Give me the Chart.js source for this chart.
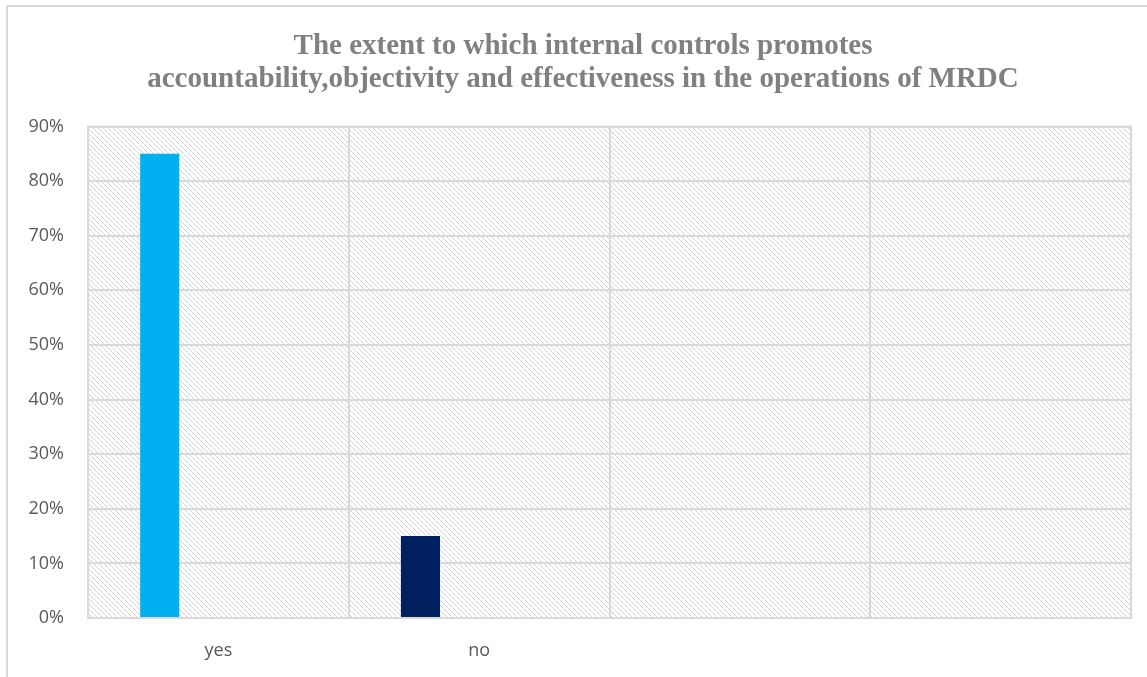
<!DOCTYPE html>
<html>
<head>
<meta charset="utf-8">
<script src="https://cdn.jsdelivr.net/npm/chart.js@4/dist/chart.umd.min.js"></script>
<style>
  html, body { margin: 0; padding: 0; background: #fff; }
  #wrap { width: 1147px; height: 677px; position: relative; }
</style>
</head>
<body>
<div id="wrap"><canvas id="chart"></canvas></div>
<script>
// data
const categories = ['yes', 'no', '', ''];
const responses = [85, 15, null, null];
const barColors = ['#00B0F0', '#002060', '#00B0F0', '#002060'];
const titleLines = [
    'The extent to which internal controls promotes',
    'accountability,objectivity and effectiveness in the operations of MRDC'
];

/* hatch fill for the plot area */
function makeHatch() {
    const c = document.createElement('canvas');
    c.width = 5;
    c.height = 5;
    const g = c.getContext('2d');
    g.fillStyle = '#ffffff';
    g.fillRect(0, 0, 5, 5);
    g.fillStyle = '#d4d4d4';
    for (let i = 0; i < 5; i++) g.fillRect(i, i, 1, 1);
    return g.createPattern(c, 'repeat');
}

const plotBackground = {
    id: 'plotBackground',
    beforeDraw(chart) {
        const { ctx, chartArea: a } = chart;
        ctx.save();
        // outer frame (cut off at right / bottom)
        ctx.strokeStyle = '#d9d9d9';
        ctx.lineWidth = 2;
        ctx.strokeRect(7, 6, 1160, 700);
        ctx.fillStyle = makeHatch();
        ctx.fillRect(a.left, a.top, a.right - a.left, a.bottom - a.top);
        ctx.restore();
    },
    afterDatasetsDraw(chart) {
        const { ctx, chartArea: a } = chart;
        ctx.save();
        ctx.strokeStyle = '#d9d9d9';
        ctx.lineWidth = 2;
        ctx.strokeRect(a.left, a.top, a.right - a.left, a.bottom - a.top);
        ctx.restore();
    }
};

const tickFont = { family: '"Open Sans", "Liberation Sans", sans-serif', size: 18 };

new Chart(document.getElementById('chart'), {
    type: 'bar',
    data: {
        labels: categories,
        datasets: [
            { data: responses, backgroundColor: barColors },
            { data: [null, null, null, null] },
            { data: [null, null, null, null] },
            { data: [null, null, null, null] }
        ]
    },
    options: {
        responsive: true,
        maintainAspectRatio: false,
        animation: false,
        categoryPercentage: 0.6,
        barPercentage: 1,
        // frame runs past the right edge, so the title sits right of centre
        layout: { padding: { left: 8, right: -11, top: 14, bottom: 0 } },
        plugins: {
            legend: { display: false },
            tooltip: { enabled: false },
            title: {
                display: true,
                text: titleLines,
                color: '#808080',
                font: { family: '"Liberation Serif", "Times New Roman", serif', size: 29, weight: 'bold', lineHeight: 1.13 },
                padding: { top: 16, bottom: 31 }
            }
        },
        scales: {
            x: {
                afterFit: s => { s.height = 59; },
                grid: { color: '#d9d9d9', lineWidth: 2, drawTicks: false },
                border: { display: false },
                ticks: { color: '#595959', font: tickFont, padding: 22 }
            },
            y: {
                min: 0,
                max: 90,
                afterFit: s => { s.width = 80; },
                grid: { color: '#d9d9d9', lineWidth: 2, drawTicks: false },
                border: { display: false },
                ticks: {
                    stepSize: 10,
                    color: '#595959',
                    font: tickFont,
                    padding: 24,
                    callback: v => v + '%'
                }
            },
            spacer: {
                type: 'linear',
                position: 'right',
                afterFit: s => { s.width = 27; },
                grid: { display: false },
                border: { display: false },
                ticks: { display: false }
            }
        }
    },
    plugins: [plotBackground]
});
</script>
</body>
</html>
